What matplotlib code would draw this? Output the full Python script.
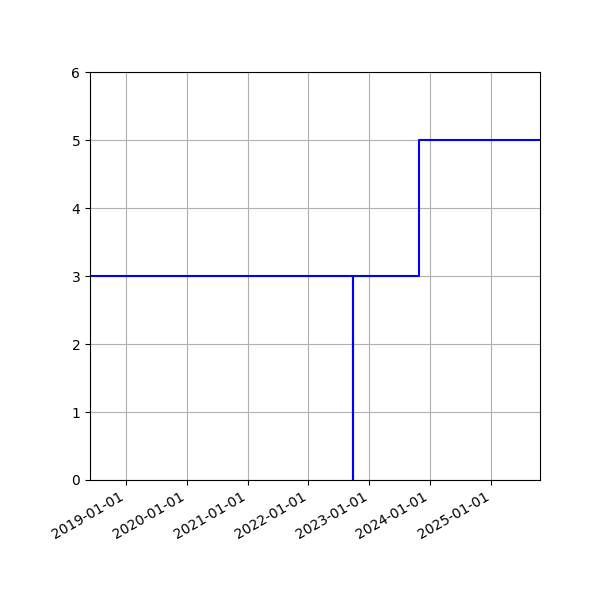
import numpy as np
import pandas as pd
import matplotlib
matplotlib.use("Agg")
import matplotlib.pyplot as plt
import matplotlib.dates as mdates

dates = pd.to_datetime(["2018-06-01", "2022-09-26", "2022-09-26", "2023-10-27", "2025-10-20"])
values = [3, 0, 3, 5, 5]

fig, ax = plt.subplots(figsize=(6, 6), dpi=100)
ax.plot(dates, values, drawstyle="steps-post", color="blue")
ax.set_xlim(dates[0], dates[-1])
ax.set_ylim(0, 6)
ax.xaxis.set_major_locator(mdates.YearLocator())
ax.xaxis.set_major_formatter(mdates.DateFormatter("%Y-%m-%d"))
ax.grid(True)
fig.autofmt_xdate()
fig.subplots_adjust(left=0.15, right=0.9, top=0.88, bottom=0.2)
fig.savefig("out.png")
